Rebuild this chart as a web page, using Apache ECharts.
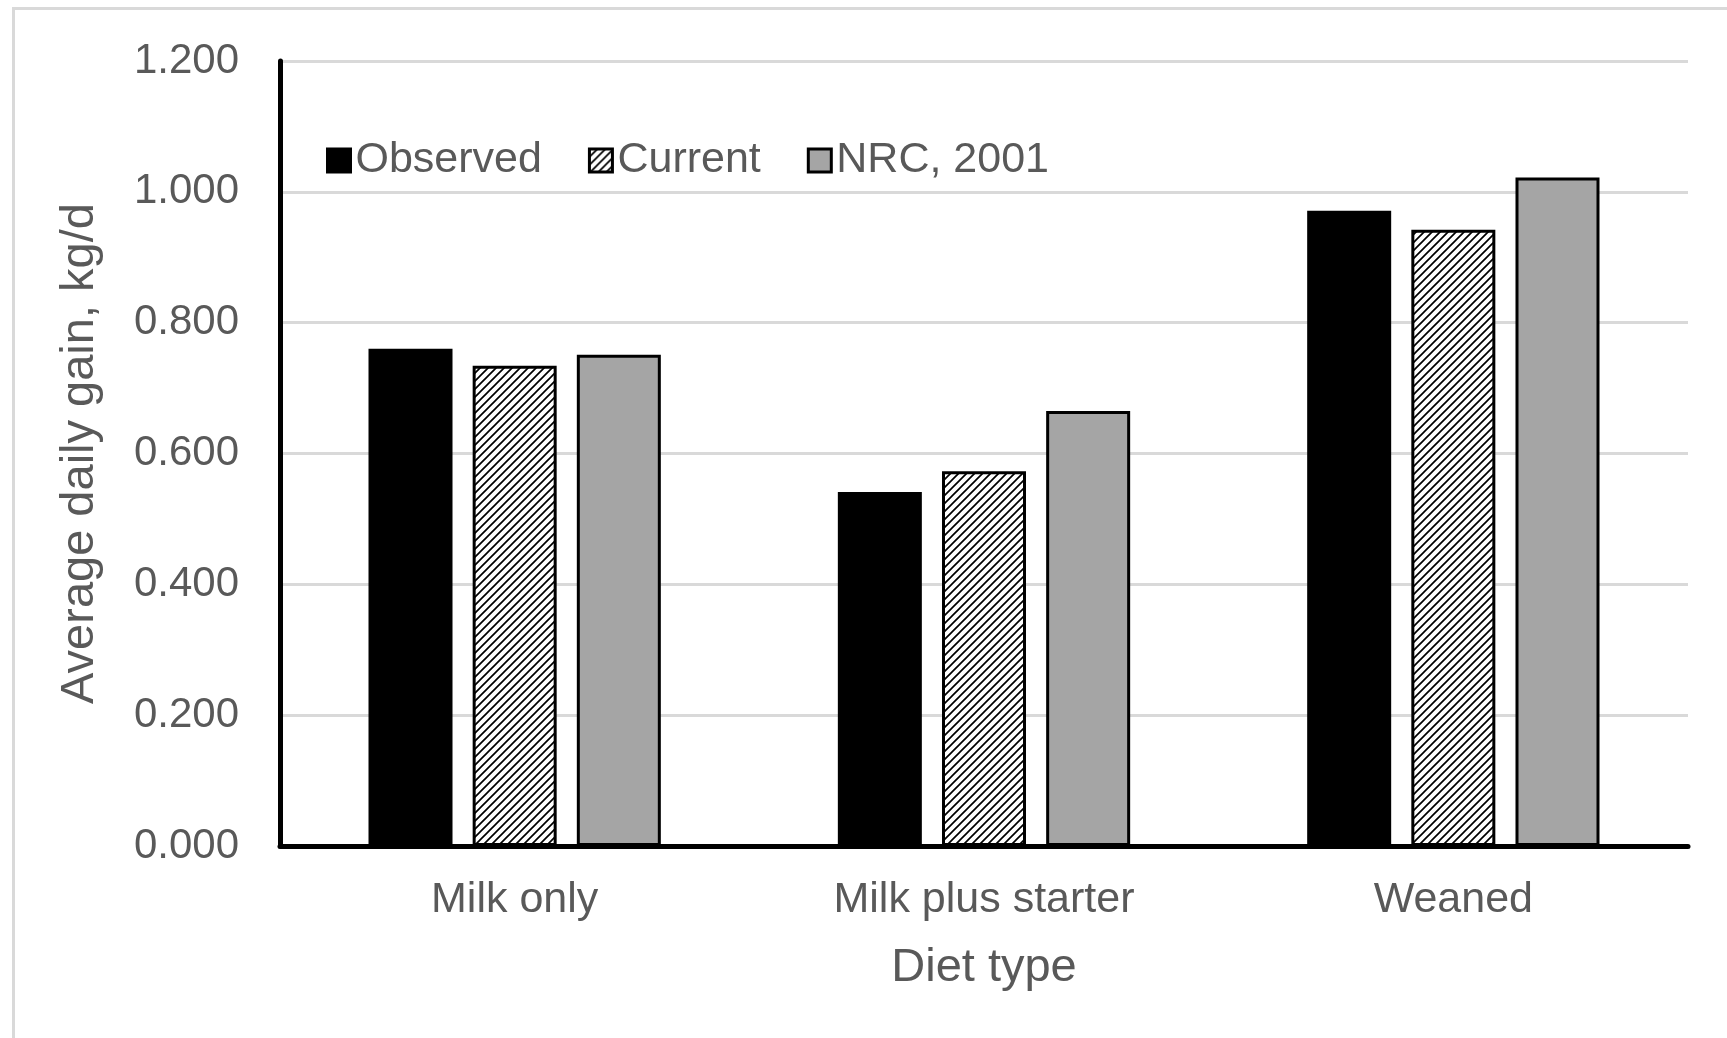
<!DOCTYPE html>
<html>
<head>
<meta charset="utf-8">
<script src="https://cdn.jsdelivr.net/npm/echarts@6/dist/echarts.min.js"></script>
<style>
html,body{margin:0;padding:0;background:#fff;}
#chart{width:1727px;height:1038px;}
</style>
</head>
<body>
<div id="chart"></div>
<script>
const categories = ['Milk only', 'Milk plus starter', 'Weaned'];
const seriesNames = ['Observed', 'Current', 'NRC, 2001'];
const observed = [0.760, 0.541, 0.971];
const current = [0.734, 0.573, 0.942];
const nrc2001 = [0.751, 0.665, 1.022];
const yTicks = [0, 0.2, 0.4, 0.6, 0.8, 1.0, 1.2];

const FONT = '"Liberation Sans", Arial, sans-serif';
const TXT = '#595959';

function hatch() {
  const s = 8;
  const c = document.createElement('canvas');
  c.width = s; c.height = s;
  const g = c.getContext('2d');
  g.fillStyle = '#fff';
  g.fillRect(0, 0, s, s);
  g.strokeStyle = '#000';
  g.lineWidth = 1.7;
  g.beginPath();
  g.moveTo(-1, s + 1); g.lineTo(s + 1, -1);
  g.moveTo(-1, 1); g.lineTo(1, -1);
  g.moveTo(s - 1, s + 1); g.lineTo(s + 1, s - 1);
  g.stroke();
  return c;
}

const chart = echarts.init(document.getElementById('chart'), null, {renderer: 'canvas'});
const barCommon = {
  type: 'bar',
  barWidth: 84,
  barGap: '24%',
};
chart.setOption({
  backgroundColor: '#fff',
  animation: false,
  graphic: [{
    type: 'rect',
    shape: {x: 13.5, y: 8.5, width: 3000, height: 3000},
    style: {fill: 'none', stroke: '#d9d9d9', lineWidth: 3},
    silent: true
  }],
  legend: {
    data: seriesNames,
    icon: 'rect',
    left: 321,
    top: 134,
    itemWidth: 23,
    itemHeight: 23,
    itemGap: 46,
    itemStyle: {borderColor: '#000', borderWidth: 3},
    textStyle: {fontSize: 43, color: TXT, fontFamily: FONT}
  },
  grid: {left: 280, right: 39, top: 61, bottom: 192},
  xAxis: {
    type: 'category',
    data: categories,
    name: 'Diet type',
    nameLocation: 'middle',
    nameGap: 99,
    nameTextStyle: {fontSize: 47, color: TXT, fontFamily: FONT},
    axisLine: {show: true, lineStyle: {color: '#000', width: 5}},
    axisTick: {show: false},
    axisLabel: {fontSize: 43, color: TXT, fontFamily: FONT, margin: 33},
    splitLine: {show: false}
  },
  yAxis: {
    type: 'value',
    min: yTicks[0],
    max: yTicks[yTicks.length - 1],
    interval: 0.2,
    name: 'Average daily gain, kg/d',
    nameLocation: 'middle',
    nameGap: 176,
    nameTextStyle: {fontSize: 47, color: TXT, fontFamily: FONT},
    axisLine: {show: true, lineStyle: {color: '#000', width: 5}},
    axisTick: {show: false},
    axisLabel: {fontSize: 42, color: TXT, fontFamily: FONT, margin: 41,
      formatter: v => v.toFixed(3)},
    splitLine: {show: true, lineStyle: {color: '#d9d9d9', width: 3}}
  },
  series: [
    Object.assign({}, barCommon, {name: seriesNames[0], data: observed,
      itemStyle: {color: '#000', borderColor: '#000', borderWidth: 3}}),
    Object.assign({}, barCommon, {name: seriesNames[1], data: current,
      itemStyle: {color: {image: hatch(), repeat: 'repeat'}, borderColor: '#000', borderWidth: 3}}),
    Object.assign({}, barCommon, {name: seriesNames[2], data: nrc2001,
      itemStyle: {color: '#a5a5a5', borderColor: '#000', borderWidth: 3}})
  ]
});
</script>
</body>
</html>
